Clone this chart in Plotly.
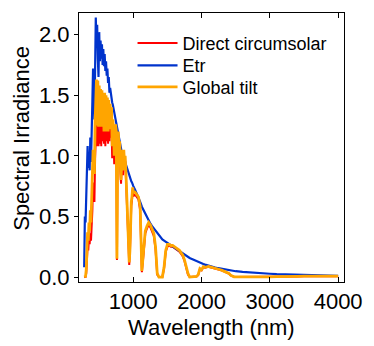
import plotly.graph_objects as go

# Wavelength sampling grid (nm)
wl_uv_vis = list(range(280, 1001, 10))
wl_nir = list(range(1025, 2501, 25))
wl_ir = list(range(2600, 4001, 100))
wavelength = wl_uv_vis + wl_nir + wl_ir

# Extraterrestrial spectrum
etr_uv_vis = [
    0.08, 0.50, 0.45, 0.62, 0.78, 1.08, 0.90, 1.02, 0.88, 1.15,
    0.95, 1.12, 1.45, 1.72, 1.62, 1.30, 1.85, 2.14, 1.90, 2.08,
    1.80, 1.65, 2.02, 1.78, 1.95, 1.80, 1.92, 1.75, 1.88, 1.74,
    1.84, 1.70, 1.78, 1.66, 1.72, 1.60, 1.65, 1.52, 1.56, 1.50,
    1.50, 1.44, 1.42, 1.39, 1.36, 1.33, 1.30, 1.27, 1.24, 1.22,
    1.19, 1.16, 1.13, 1.10, 1.08, 1.06, 1.03, 0.97, 1.00, 0.96,
    0.95, 0.93, 0.91, 0.89, 0.87, 0.85, 0.84, 0.82, 0.81, 0.79,
    0.78, 0.76, 0.75,
]
etr_nir = [
    0.72, 0.69, 0.65, 0.62, 0.58, 0.55, 0.52, 0.49, 0.47, 0.44,
    0.42, 0.40, 0.38, 0.36, 0.34, 0.33, 0.31, 0.30, 0.29, 0.28,
    0.27, 0.26, 0.25, 0.24, 0.23, 0.22, 0.21, 0.20, 0.19, 0.18,
    0.17, 0.165, 0.157, 0.150, 0.143, 0.136, 0.130, 0.123, 0.117, 0.112,
    0.107, 0.102, 0.097, 0.093, 0.089, 0.085, 0.081, 0.078, 0.075, 0.072,
    0.069, 0.066, 0.063, 0.061, 0.058, 0.056, 0.054, 0.052, 0.050, 0.048,
]
etr_ir = [
    0.042, 0.037, 0.033, 0.030, 0.027, 0.024, 0.022, 0.020, 0.018, 0.016,
    0.015, 0.013, 0.012, 0.011, 0.010,
]

# Global tilt spectrum
glob_uv_vis = [
    0.00, 0.00, 0.005, 0.06, 0.20, 0.37, 0.30, 0.45, 0.38, 0.55,
    0.45, 0.62, 0.80, 1.05, 1.00, 0.85, 1.28, 1.50, 1.63, 1.25,
    1.62, 1.24, 1.58, 1.26, 1.55, 1.24, 1.54, 1.26, 1.52, 1.20,
    1.52, 1.20, 1.50, 1.22, 1.48, 1.20, 1.46, 1.22, 1.43, 1.25,
    1.40, 1.08, 1.30, 1.22, 1.00, 1.12, 1.26, 1.20, 0.15, 1.10,
    1.20, 1.05, 1.12, 0.92, 0.80, 0.98, 1.05, 0.88, 1.05, 0.95,
    1.00, 0.88, 0.70, 0.62, 0.50, 0.20, 0.12, 0.22, 0.48, 0.62,
    0.66, 0.74, 0.70,
]
glob_nir = [
    0.70, 0.68, 0.66, 0.58, 0.05, 0.22, 0.38, 0.42, 0.45, 0.43,
    0.40, 0.36, 0.25, 0.03, 0.00, 0.00, 0.00, 0.08, 0.22, 0.27,
    0.27, 0.26, 0.26, 0.25, 0.24, 0.23, 0.22, 0.20, 0.18, 0.14,
    0.08, 0.03, 0.00, 0.00, 0.00, 0.00, 0.005, 0.02, 0.07, 0.06,
    0.085, 0.08, 0.085, 0.087, 0.083, 0.080, 0.078, 0.075, 0.070, 0.065,
    0.060, 0.055, 0.050, 0.045, 0.040, 0.030, 0.015, 0.006, 0.002, 0.001,
]
glob_ir = [
    0.000, 0.000, 0.000, 0.001, 0.002, 0.003, 0.002, 0.004, 0.006, 0.008,
    0.007, 0.008, 0.006, 0.006, 0.007,
]

# Direct + circumsolar spectrum
direct_uv_vis = [
    0.00, 0.00, 0.00, 0.03, 0.12, 0.25, 0.22, 0.32, 0.27, 0.36,
    0.30, 0.40, 0.55, 0.78, 0.72, 0.62, 0.98, 1.15, 1.30, 1.08,
    1.32, 1.08, 1.30, 1.10, 1.30, 1.08, 1.32, 1.12, 1.30, 1.10,
    1.32, 1.08, 1.30, 1.12, 1.30, 1.10, 1.30, 1.12, 1.30, 1.15,
    1.28, 0.98, 1.20, 1.15, 0.93, 1.05, 1.19, 1.14, 0.14, 1.04,
    1.14, 0.99, 1.06, 0.87, 0.77, 0.93, 1.00, 0.84, 1.00, 0.91,
    0.96, 0.84, 0.66, 0.58, 0.47, 0.18, 0.10, 0.20, 0.45, 0.59,
    0.63, 0.71, 0.67,
]
direct_nir = [
    0.68, 0.66, 0.64, 0.55, 0.04, 0.19, 0.36, 0.40, 0.43, 0.41,
    0.38, 0.34, 0.23, 0.02, 0.00, 0.00, 0.00, 0.07, 0.21, 0.25,
    0.26, 0.25, 0.25, 0.24, 0.23, 0.22, 0.21, 0.19, 0.17, 0.13,
    0.07, 0.02, 0.00, 0.00, 0.00, 0.00, 0.004, 0.015, 0.065, 0.055,
    0.080, 0.077, 0.082, 0.084, 0.080, 0.077, 0.075, 0.072, 0.068, 0.063,
    0.058, 0.053, 0.048, 0.043, 0.038, 0.028, 0.014, 0.005, 0.002, 0.001,
]
direct_ir = [
    0.000, 0.000, 0.000, 0.001, 0.002, 0.003, 0.002, 0.004, 0.005, 0.007,
    0.006, 0.007, 0.005, 0.005, 0.006,
]

etr = etr_uv_vis + etr_nir + etr_ir
global_tilt = glob_uv_vis + glob_nir + glob_ir
direct = direct_uv_vis + direct_nir + direct_ir

series_names = ["Direct circumsolar", "Etr", "Global tilt"]
series_values = [direct, etr, global_tilt]
series_colors = ["#ff0000", "#0033cc", "#ffa500"]
series_widths = [2, 2.2, 2.8]
legend_ids = ["legend", "legend2", "legend3"]
legend_rows = [0.887, 0.804, 0.724]

y_ticks = [0.0, 0.5, 1.0, 1.5, 2.0]
x_ticks = [1000, 2000, 3000, 4000]
x_range = [204, 4086]
y_range = [-0.041, 2.178]

FONT = "Arial, Liberation Sans, Helvetica, sans-serif"

fig = go.Figure()
for name, vals, col, w, lg in zip(series_names, series_values, series_colors,
                                  series_widths, legend_ids):
    fig.add_trace(go.Scatter(
        x=wavelength, y=vals, name=name, mode="lines",
        line=dict(color=col, width=w), legend=lg,
    ))

# one single-entry legend per row so the row spacing can be set freely
legend_style = dict(
    x=0.202, xanchor="left", yanchor="middle",
    bgcolor="rgba(0,0,0,0)", borderwidth=0,
    font=dict(family=FONT, size=18, color="black"),
    itemwidth=40,
)
for lg, row in zip(legend_ids, legend_rows):
    fig.update_layout({lg: dict(legend_style, y=row)})

fig.update_layout(
    width=374, height=346,
    margin=dict(l=79, r=23, t=13, b=64),
    paper_bgcolor="white", plot_bgcolor="white",
    font=dict(family=FONT, size=22, color="black"),
    showlegend=True,
    xaxis=dict(
        range=x_range, tickvals=x_ticks, ticks="inside", ticklen=5,
        tickcolor="black", showline=True, linecolor="black", linewidth=1,
        mirror="ticks", showgrid=False, zeroline=False,
        tickfont=dict(size=22),
    ),
    yaxis=dict(
        range=y_range, tickvals=y_ticks, tickformat=".1f", ticks="outside",
        ticklen=4, tickcolor="black", showline=True, linecolor="black",
        linewidth=1, mirror=True, showgrid=False, zeroline=False,
        tickfont=dict(size=22),
    ),
    yaxis2=dict(
        range=y_range, tickvals=y_ticks, overlaying="y", side="right",
        ticks="inside", ticklen=5, tickcolor="black", showticklabels=False,
        showline=False, showgrid=False, zeroline=False,
    ),
    annotations=[
        dict(text="Spectral Irradiance", textangle=-90, xref="paper", yref="paper",
             x=-0.22, y=0.535, xanchor="center", yanchor="middle",
             showarrow=False, font=dict(size=22)),
        dict(text="Wavelength (nm)", xref="paper", yref="paper",
             x=0.5, y=-0.17, xanchor="center", yanchor="middle",
             showarrow=False, font=dict(size=22)),
    ],
)

fig.write_html("out.html")
